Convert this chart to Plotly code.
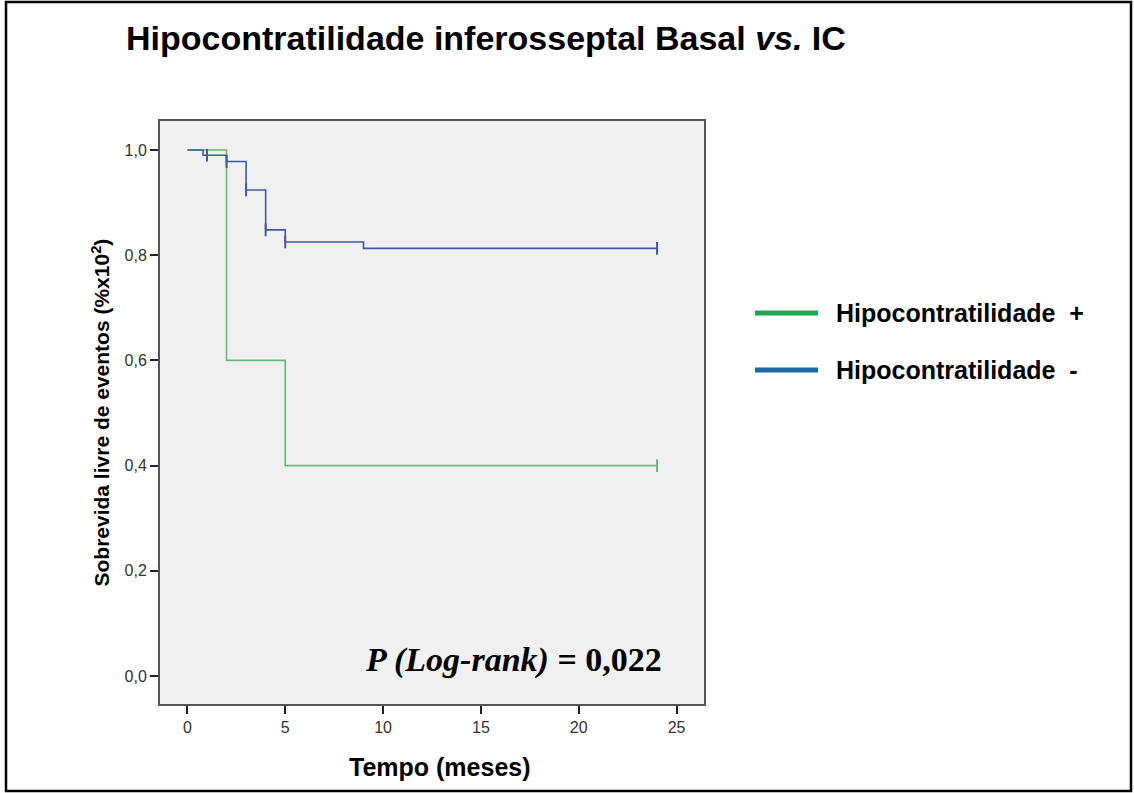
import plotly.graph_objects as go

# ---- data ----
pos_times = [0, 2, 5, 24]
pos_surv = [1.0, 0.6, 0.4, 0.4]
pos_cens_t = [24]
pos_cens_s = [0.4]

neg_times = [0, 0.8, 2, 3, 4, 5, 9, 24]
neg_surv = [1.0, 0.99, 0.978, 0.924, 0.848, 0.825, 0.813, 0.813]
neg_cens_t = [1, 2, 3, 4, 5, 24]
neg_cens_s = [0.99, 0.978, 0.924, 0.848, 0.825, 0.813]

x_ticks = [0, 5, 10, 15, 20, 25]
y_ticks = [0.0, 0.2, 0.4, 0.6, 0.8, 1.0]
y_ticktext = ["0,0", "0,2", "0,4", "0,6", "0,8", "1,0"]

legend_names = ["Hipocontratilidade  +", "Hipocontratilidade  -"]
legend_colors = ["#1fa651", "#1a6aa8"]

curve_green = "#62ba76"
curve_blue = "#3d5aa0"

W, H = 1134, 793
L, R, T, B = 160, 704, 121, 704  # plot area pixels


def px(x):
    return (x - L) / (R - L)


def py(y):
    return (B - y) / (B - T)


fig = go.Figure()

fig.add_trace(go.Scatter(x=pos_times, y=pos_surv, mode="lines", line=dict(color=curve_green, width=1.6, shape="hv"),
                         showlegend=False, hoverinfo="skip"))
fig.add_trace(go.Scatter(x=neg_times, y=neg_surv, mode="lines", line=dict(color=curve_blue, width=1.6, shape="hv"),
                         showlegend=False, hoverinfo="skip"))
fig.add_trace(go.Scatter(x=pos_cens_t, y=pos_cens_s, mode="markers",
                         marker=dict(symbol="line-ns", size=9, line=dict(color=curve_green, width=2)),
                         showlegend=False, hoverinfo="skip"))
fig.add_trace(go.Scatter(x=neg_cens_t, y=neg_cens_s, mode="markers",
                         marker=dict(symbol="line-ns", size=9, line=dict(color=curve_blue, width=2)),
                         showlegend=False, hoverinfo="skip"))

shapes = [
    # outer border
    dict(type="rect", xref="paper", yref="paper", x0=px(6), x1=px(1131), y0=py(791), y1=py(2),
         line=dict(color="black", width=2.5), fillcolor="rgba(0,0,0,0)", layer="above"),
]
annotations = []
legend_y = [313, 370]
for name, col, yy in zip(legend_names, legend_colors, legend_y):
    shapes.append(dict(type="line", xref="paper", yref="paper", x0=px(755), x1=px(818), y0=py(yy), y1=py(yy),
                       line=dict(color=col, width=5)))
    annotations.append(dict(xref="paper", yref="paper", x=px(834), y=py(yy), xanchor="left", yanchor="middle",
                            text="<b>" + name + "</b>", showarrow=False,
                            font=dict(family="Liberation Sans, Arial", size=25, color="black")))

annotations += [
    dict(xref="paper", yref="paper", x=px(124), y=py(38), xanchor="left", yanchor="middle",
         text="<b>Hipocontratilidade inferosseptal Basal <i>vs.</i> IC</b>", showarrow=False,
         font=dict(family="Liberation Sans, Arial", size=34, color="black")),
    dict(xref="paper", yref="paper", x=px(100), y=0.5, xanchor="center", yanchor="middle", textangle=-90,
         text="<b>Sobrevida livre de eventos (%x10<sup>2</sup>)</b>", showarrow=False,
         font=dict(family="Liberation Sans, Arial", size=21, color="black")),
    dict(xref="paper", yref="paper", x=px(440), y=py(767), xanchor="center", yanchor="middle",
         text="<b>Tempo (meses)</b>", showarrow=False,
         font=dict(family="Liberation Sans, Arial", size=25, color="black")),
    dict(xref="paper", yref="paper", x=px(664), y=py(660), xanchor="right", yanchor="middle",
         text="<b><i>P (Log-rank)</i> = 0,022</b>", showarrow=False,
         font=dict(family="Liberation Serif, Times New Roman", size=34, color="black")),
]

fig.update_layout(
    width=W, height=H,
    margin=dict(l=L, r=W - R, t=T, b=H - B),
    paper_bgcolor="white",
    plot_bgcolor="#f0f0f0",
    showlegend=False,
    shapes=shapes,
    annotations=annotations,
    xaxis=dict(range=[-1.4, 26.4], tickvals=x_ticks, ticks="outside", ticklen=8, tickwidth=1.5, tickcolor="#222",
               showgrid=False, zeroline=False, showline=True, mirror=True, linecolor="#555", linewidth=2,
               tickfont=dict(family="Liberation Sans, Arial", size=16, color="#333")),
    yaxis=dict(range=[-0.053, 1.055], tickvals=y_ticks, ticktext=y_ticktext, ticks="outside", ticklen=8,
               tickwidth=1.5, tickcolor="#222",
               showgrid=False, zeroline=False, showline=True, mirror=True, linecolor="#555", linewidth=2,
               tickfont=dict(family="Liberation Sans, Arial", size=16, color="#333")),
)

fig.write_html("out.html")
